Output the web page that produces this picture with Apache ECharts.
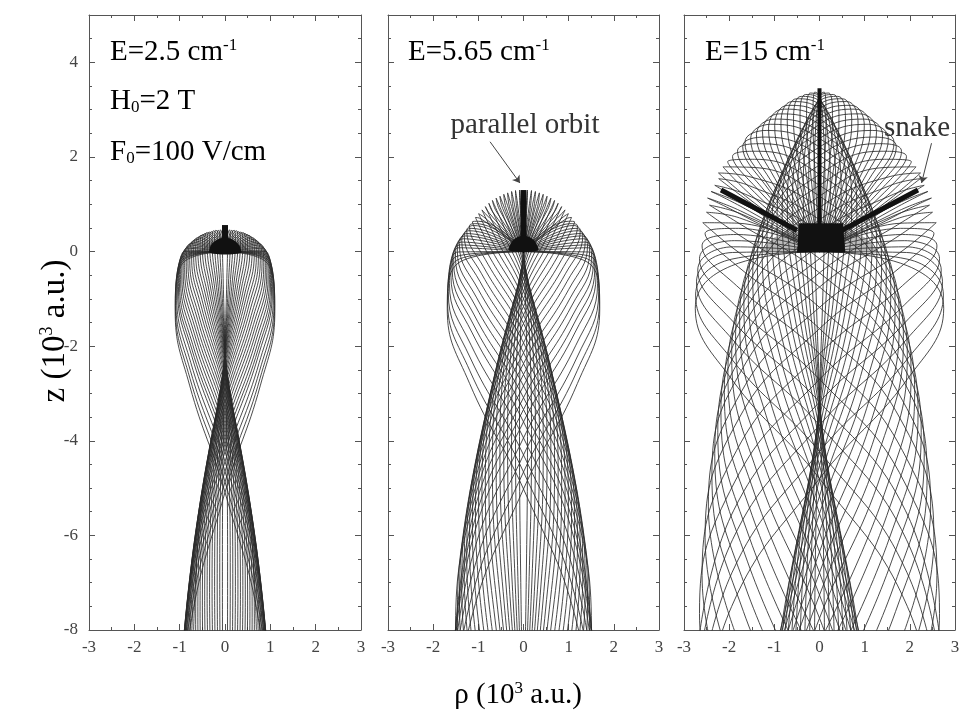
<!DOCTYPE html>
<html><head><meta charset="utf-8">
<script src="https://cdn.jsdelivr.net/npm/echarts@6/dist/echarts.min.js"></script>
<style>html,body{margin:0;padding:0;background:#fff}#c{width:965px;height:721px}</style>
</head><body><div id="c"></div>
<script>
// ---------- axes ----------
const rhoMin = -3, rhoMax = 3, rhoStep = 1;
const zMin = -8, zMax = 5, zStep = 2;

// ---------- panel labels ----------
const panelEnergy = ['2.5', '5.65', '15'];
const fieldH = '2 T';
const fieldF = '100 V/cm';

// ---------- panel 1 (E=2.5) : orbit key points [rho, z] (right-hand branch, mirrored for left) ----------
const p1Orbits = [
  [[0,0],[.051,.46],[.0575,.27],[.041,-.57],[0,-2.05],[-.041,-4.19],[-.0575,-6.98],[-.041,-10.42]],
  [[0,0],[.10,.46],[.116,.27],[.082,-.57],[0,-2.07],[-.082,-4.21],[-.116,-7.0],[-.082,-10.44]],
  [[0,0],[.152,.45],[.172,.26],[.122,-.59],[0,-2.09],[-.122,-4.24],[-.172,-7.03],[-.122,-10.48]],
  [[0,0],[.20,.45],[.229,.24],[.162,-.62],[0,-2.12],[-.162,-4.28],[-.229,-7.08],[-.162,-10.54]],
  [[0,0],[.252,.44],[.285,.22],[.201,-.64],[0,-2.16],[-.201,-4.32],[-.285,-7.14],[-.201,-10.6]],
  [[0,0],[.30,.42],[.34,.20],[.24,-.68],[0,-2.21],[-.24,-4.38],[-.34,-7.21],[-.24,-10.68]],
  [[0,0],[.348,.41],[.394,.17],[.279,-.72],[0,-2.26],[-.279,-4.45],[-.394,-7.29],[-.279,-10.78]],
  [[0,0],[.40,.40],[.448,.14],[.317,-.77],[0,-2.32],[-.317,-4.53],[-.448,-7.38],[-.317,-10.89]],
  [[0,0],[.441,.38],[.499,.10],[.353,-.82],[0,-2.39],[-.353,-4.62],[-.499,-7.49],[-.353,-11.01]],
  [[0,0],[.49,.36],[.55,.07],[.389,-.88],[0,-2.47],[-.389,-4.71],[-.55,-7.61],[-.389,-11.15]],
  [[0,0],[.53,.34],[.599,.02],[.424,-.94],[0,-2.56],[-.424,-4.82],[-.599,-7.74],[-.424,-11.3]],
  [[0,0],[.57,.31],[.647,-.03],[.457,-1.01],[0,-2.65],[-.457,-4.94],[-.647,-7.88],[-.457,-11.46]],
  [[0,0],[.612,.29],[.692,-.08],[.489,-1.09],[0,-2.75],[-.489,-5.07],[-.692,-8.03]],
  [[0,0],[.65,.26],[.736,-.13],[.52,-1.17],[0,-2.86],[-.52,-5.2],[-.736,-8.19]],
  [[0,0],[.688,.23],[.778,-.19],[.55,-1.25],[0,-2.97],[-.55,-5.34],[-.778,-8.36]],
  [[0,0],[.72,.20],[.817,-.25],[.578,-1.35],[0,-3.1],[-.578,-5.49],[-.817,-8.54]],
  [[0,0],[.756,.17],[.855,-.31],[.604,-1.44],[0,-3.22],[-.604,-5.65],[-.855,-8.73]],
  [[0,0],[.79,.14],[.89,-.38],[.629,-1.54],[0,-3.35],[-.629,-5.81],[-.89,-8.93]],
  [[0,0],[.816,.10],[.923,-.44],[.652,-1.64],[0,-3.48],[-.652,-5.98],[-.923,-9.13]],
  [[0,0],[.84,.07],[.953,-.51],[.674,-1.74],[0,-3.63],[-.674,-6.16],[-.953,-9.34]],
  [[0,0],[.866,.03],[.98,-.59],[.693,-1.85],[0,-3.77],[-.693,-6.34],[-.98,-9.56]],
  [[0,0],[.89,0],[1.005,-.66],[.711,-1.97],[0,-3.92],[-.711,-6.53],[-1.005,-9.78]],
  [[0,0],[.908,-.04],[1.027,-.74],[.726,-2.08],[0,-4.07],[-.726,-6.71],[-1.027,-10.01]],
  [[0,0],[.92,-.08],[1.046,-.81],[.739,-2.19],[0,-4.23],[-.739,-6.91],[-1.046,-10.24]],
  [[0,0],[.943,-.13],[1.067,-.92],[.754,-2.35],[0,-4.44],[-.754,-7.17],[-1.067,-10.56]],
  [[0,0],[.96,-.19],[1.084,-1.03],[.766,-2.51],[0,-4.65],[-.766,-7.44],[-1.084,-10.88]],
  [[0,0],[.967,-.24],[1.094,-1.14],[.773,-2.68],[0,-4.87],[-.773,-7.71],[-1.094,-11.21]],
  [[0,0],[.97,-.30],[1.099,-1.25],[.777,-2.84],[0,-5.09],[-.777,-7.99],[-1.099,-11.54]]
];
const p1AxisOrbit = [[0,0.2],[0,0.56]];
const p1BlobRho = [-0.33, 0.35, 0.3, 0.1, -0.1, -0.3];
const p1BlobZ   = [-0.03, -0.03, 0.15, 0.28, 0.28, 0.15];

// ---------- panel 2 (E=5.65) ----------
const p2Orbits = [
  [[0,0],[.078,.97],[.0884,1.3],[.0625,.97],[0,-.01],[-.0625,-1.64],[-.0884,-3.91],[-.0625,-6.84],[0,-10.42]],
  [[0,0],[.156,.97],[.177,1.29],[.125,.96],[0,-.03],[-.125,-1.66],[-.177,-3.94],[-.125,-6.87],[0,-10.45]],
  [[0,0],[.234,.96],[.264,1.27],[.187,.93],[0,-.06],[-.187,-1.71],[-.264,-4.0],[-.187,-6.94],[0,-10.53]],
  [[0,0],[.311,.95],[.352,1.24],[.249,.89],[0,-.12],[-.249,-1.77],[-.352,-4.07],[-.249,-7.03],[0,-10.63]],
  [[0,0],[.387,.93],[.437,1.21],[.309,.84],[0,-.18],[-.309,-1.85],[-.437,-4.17],[-.309,-7.14],[0,-10.76]],
  [[0,0],[.461,.91],[.522,1.17],[.369,.78],[0,-.26],[-.369,-1.94],[-.522,-4.28],[-.369,-7.27],[0,-10.91]],
  [[0,0],[.535,.89],[.606,1.13],[.428,.72],[0,-.35],[-.428,-2.06],[-.606,-4.42],[-.428,-7.43],[0,-11.09]],
  [[0,0],[.608,.86],[.688,1.08],[.486,.64],[0,-.45],[-.486,-2.18],[-.688,-4.57],[-.486,-7.6],[0,-11.29]],
  [[0,0],[.678,.83],[.767,1.02],[.542,.55],[0,-.57],[-.542,-2.33],[-.767,-4.75],[-.542,-7.82],[0,-11.53]],
  [[0,0],[.747,.80],[.845,.95],[.597,.45],[0,-.7],[-.597,-2.49],[-.845,-4.94],[-.597,-8.04],[0,-11.79]],
  [[0,0],[.814,.77],[.92,.88],[.651,.35],[0,-.84],[-.651,-2.67],[-.92,-5.16],[-.651,-8.29]],
  [[0,0],[.879,.73],[.994,.80],[.703,.23],[0,-1.0],[-.703,-2.87],[-.994,-5.39],[-.703,-8.57]],
  [[0,0],[.94,.69],[1.064,.72],[.752,.11],[0,-1.16],[-.752,-3.07],[-1.064,-5.64],[-.752,-8.85]],
  [[0,0],[1.0,.64],[1.131,.63],[.8,-.03],[0,-1.34],[-.8,-3.29],[-1.131,-5.9],[-.8,-9.16]],
  [[0,0],[1.056,.59],[1.195,.54],[.845,-.17],[0,-1.52],[-.845,-3.53],[-1.195,-6.19],[-.845,-9.49]],
  [[0,0],[1.11,.55],[1.256,.44],[.888,-.32],[0,-1.72],[-.888,-3.78],[-1.256,-6.48],[-.888,-9.84]],
  [[0,0],[1.161,.49],[1.313,.34],[.928,-.47],[0,-1.93],[-.928,-4.03],[-1.313,-6.79],[-.928,-10.2]],
  [[0,0],[1.208,.44],[1.367,.23],[.966,-.63],[0,-2.14],[-.966,-4.3],[-1.367,-7.11],[-.966,-10.57]],
  [[0,0],[1.253,.38],[1.417,.12],[1.002,-.8],[0,-2.37],[-1.002,-4.59],[-1.417,-7.45],[-1.002,-10.97]],
  [[0,0],[1.294,.33],[1.464,0],[1.035,-.98],[0,-2.6],[-1.035,-4.88],[-1.464,-7.8],[-1.035,-11.38]],
  [[0,0],[1.331,.27],[1.506,-.12],[1.065,-1.15],[0,-2.84],[-1.065,-5.17],[-1.506,-8.16],[-1.065,-11.79]],
  [[0,0],[1.366,.2],[1.545,-.24],[1.092,-1.34],[0,-3.09],[-1.092,-5.48],[-1.545,-8.53]],
  [[0,0],[1.395,.14],[1.578,-.37],[1.115,-1.53],[0,-3.34],[-1.115,-5.8],[-1.578,-8.9]],
  [[0,0],[1.42,.08],[1.607,-.5],[1.136,-1.72],[0,-3.6],[-1.136,-6.12],[-1.607,-9.29]],
  [[0,0],[1.45,-.01],[1.64,-.67],[1.159,-1.98],[0,-3.94],[-1.159,-6.55],[-1.64,-9.81]],
  [[0,0],[1.472,-.1],[1.665,-.85],[1.177,-2.25],[0,-4.3],[-1.177,-6.99],[-1.665,-10.34]],
  [[0,0],[1.486,-.19],[1.681,-1.03],[1.188,-2.52],[0,-4.66],[-1.188,-7.45],[-1.681,-10.89]],
  [[0,0],[1.492,-.28],[1.688,-1.21],[1.193,-2.79],[0,-5.02],[-1.193,-7.9],[-1.688,-11.43]]
];
const p2AxisOrbit = [[0,0.2],[0,1.3]];
const p2BlobRho = [-0.32, 0.32, 0.25, 0.1, -0.1, -0.25];
const p2BlobZ   = [0.02, 0.02, 0.22, 0.32, 0.32, 0.22];
const p2ArrowFrom = [-0.74, 2.32];
const p2ArrowTo   = [-0.08, 1.45];

// ---------- panel 3 (E=15) ----------
const p3Orbits = [
  [[0,0],[.102,1.72],[.144,2.85],[.102,3.37],[0,3.29],[-.085,2.61],[-.12,1.34],[-.085,-.54],[0,-3.02],[.085,-6.1],[.12,-9.77]],
  [[0,0],[.203,1.72],[.287,2.83],[.203,3.35],[0,3.27],[-.169,2.59],[-.239,1.3],[-.169,-.58],[0,-3.06],[.169,-6.14],[.239,-9.83]],
  [[0,0],[.305,1.71],[.431,2.82],[.305,3.32],[0,3.23],[-.254,2.54],[-.359,1.25],[-.254,-.65],[0,-3.14],[.254,-6.23],[.359,-9.92]],
  [[0,0],[.406,1.69],[.575,2.79],[.406,3.28],[0,3.18],[-.338,2.47],[-.479,1.17],[-.338,-.74],[0,-3.24],[.338,-6.35],[.479,-10.05]],
  [[0,0],[.505,1.68],[.714,2.76],[.505,3.23],[0,3.11],[-.421,2.39],[-.595,1.07],[-.421,-.86],[0,-3.38],[.421,-6.5],[.595,-10.22]],
  [[0,0],[.604,1.66],[.854,2.71],[.604,3.17],[0,3.02],[-.503,2.28],[-.712,.94],[-.503,-1.01],[0,-3.55],[.503,-6.7],[.712,-10.44]],
  [[0,0],[.702,1.63],[.992,2.66],[.702,3.09],[0,2.93],[-.585,2.16],[-.827,.79],[-.585,-1.18],[0,-3.75],[.585,-6.92],[.827,-10.69]],
  [[0,0],[.798,1.6],[1.128,2.61],[.798,3.01],[0,2.81],[-.665,2.02],[-.94,.62],[-.665,-1.38],[0,-3.97],[.665,-7.17],[.94,-10.96]],
  [[0,0],[.893,1.57],[1.262,2.54],[.893,2.91],[0,2.69],[-.744,1.86],[-1.052,.43],[-.744,-1.6],[0,-4.23],[.744,-7.46],[1.052,-11.29]],
  [[0,0],[.986,1.54],[1.396,2.47],[.986,2.8],[0,2.54],[-.822,1.67],[-1.163,.21],[-.822,-1.86],[0,-4.52],[.822,-7.8],[1.163,-11.65]],
  [[0,0],[1.078,1.5],[1.524,2.39],[1.078,2.69],[0,2.39],[-.898,1.48],[-1.27,-.02],[-.898,-2.13],[0,-4.83],[.898,-8.13]],
  [[0,0],[1.166,1.45],[1.65,2.31],[1.166,2.56],[0,2.21],[-.972,1.27],[-1.375,-.28],[-.972,-2.42],[0,-5.17],[.972,-8.52]],
  [[0,0],[1.202,1.41],[1.7,2.22],[1.202,2.42],[0,2.03],[-1.045,1.04],[-1.478,-.55],[-1.045,-2.75],[0,-5.54],[1.045,-8.93]],
  [[0,0],[1.283,1.36],[1.815,2.12],[1.283,2.28],[0,1.83],[-1.116,.79],[-1.578,-.85],[-1.116,-3.09],[0,-5.93],[1.116,-9.37]],
  [[0,0],[1.362,1.31],[1.925,2.01],[1.362,2.12],[0,1.63],[-1.184,.53],[-1.674,-1.16],[-1.184,-3.46],[0,-6.35],[1.184,-9.84]],
  [[0,0],[1.438,1.25],[2.033,1.9],[1.438,1.95],[0,1.4],[-1.25,.26],[-1.768,-1.49],[-1.25,-3.84],[0,-6.79],[1.25,-10.34]],
  [[0,0],[1.511,1.19],[2.137,1.79],[1.511,1.78],[0,1.17],[-1.314,-.04],[-1.858,-1.84],[-1.314,-4.25],[0,-7.26],[1.314,-10.87]],
  [[0,0],[1.581,1.13],[2.236,1.66],[1.581,1.59],[0,.93],[-1.375,-.34],[-1.944,-2.21],[-1.375,-4.68],[0,-7.75],[1.375,-11.42]],
  [[0,0],[1.577,1.07],[2.231,1.54],[1.577,1.4],[0,.67],[-1.434,-.66],[-2.028,-2.59],[-1.434,-5.13],[0,-8.26]],
  [[0,0],[1.639,1.0],[2.318,1.4],[1.639,1.21],[0,.41],[-1.49,-.99],[-2.107,-2.98],[-1.49,-5.58],[0,-8.78]],
  [[0,0],[1.697,.93],[2.4,1.27],[1.697,1.0],[0,.13],[-1.543,-1.34],[-2.182,-3.4],[-1.543,-6.07],[0,-9.34]],
  [[0,0],[1.751,.86],[2.477,1.13],[1.751,.79],[0,-.15],[-1.592,-1.69],[-2.252,-3.82],[-1.592,-6.56],[0,-9.9]],
  [[0,0],[1.722,.79],[2.435,.98],[1.722,.56],[0,-.45],[-1.64,-2.06],[-2.319,-4.27],[-1.64,-7.09],[0,-10.5]],
  [[0,0],[1.768,.71],[2.501,.83],[1.768,.34],[0,-.75],[-1.684,-2.44],[-2.382,-4.72],[-1.684,-7.61],[0,-11.1]],
  [[0,0],[1.827,.6],[2.584,.61],[1.827,.01],[0,-1.18],[-1.74,-2.98],[-2.461,-5.38],[-1.74,-8.37]],
  [[0,0],[1.791,.49],[2.533,.38],[1.791,-.33],[0,-1.63],[-1.791,-3.54],[-2.533,-6.05],[-1.791,-9.16]],
  [[0,0],[1.838,.36],[2.6,.12],[1.838,-.72],[0,-2.16],[-1.838,-4.21],[-2.6,-6.85],[-1.838,-10.09]],
  [[0,0],[1.878,.23],[2.657,-.15],[1.878,-1.13],[0,-2.7],[-1.878,-4.87],[-2.657,-7.65],[-1.878,-11.02]],
  [[0,0],[1.905,.1],[2.695,-.39],[1.905,-1.49],[0,-3.18],[-1.905,-5.48],[-2.695,-8.38]],
  [[0,0],[1.925,-.02],[2.723,-.64],[1.925,-1.86],[0,-3.67],[-1.925,-6.09],[-2.723,-9.11]],
  [[0,0],[1.939,-.16],[2.743,-.92],[1.939,-2.28],[0,-4.23],[-1.939,-6.79],[-2.743,-9.95]],
  [[0,0],[1.944,-.3],[2.75,-1.2],[1.944,-2.7],[0,-4.8],[-1.944,-7.5],[-2.75,-10.8]]
];
const p3AxisOrbit = [[0,0.3],[0,3.45]];
const p3Snake = [[0.5,0.45],[2.18,1.3]];
const p3BlobRho = [-0.5, 0.57, 0.52, -0.45];
const p3BlobZ   = [-0.02, -0.02, 0.6, 0.6];
const p3ShadeRho = [-1.3, -0.5, -0.5, -1.0];
const p3ShadeZ   = [0.0, 0.0, 0.45, 0.3];
const p3ArrowFrom = [2.48, 2.29];
const p3ArrowTo   = [2.26, 1.45];

// ---------- layout ----------
const grids = [
  {left: 89, top: 15, width: 272, height: 615},
  {left: 388, top: 15, width: 271, height: 615},
  {left: 684, top: 15, width: 271, height: 615}
];
const SERIF = 'Liberation Serif, Times New Roman, serif';
const AX = '#555';
const LINE = '#2a2a2a';

const xAxes = [], yAxes = [];
grids.forEach((g, i) => {
  const tick = {inside: true, length: 6, lineStyle: {color: AX}};
  const minor = {show: true, splitNumber: 2, length: 3, lineStyle: {color: AX}};
  xAxes.push({gridIndex: i, type: 'value', min: rhoMin, max: rhoMax, interval: rhoStep, position: 'bottom',
    axisLine: {show: true, onZero: false, lineStyle: {color: AX}}, axisTick: tick, minorTick: minor,
    splitLine: {show: false},
    axisLabel: {fontFamily: SERIF, fontSize: 17, color: '#444', margin: 9, showMinLabel: true, showMaxLabel: true}});
  xAxes.push({gridIndex: i, type: 'value', min: rhoMin, max: rhoMax, interval: rhoStep, position: 'top',
    axisLine: {show: true, onZero: false, lineStyle: {color: AX}}, axisTick: tick, minorTick: minor,
    splitLine: {show: false}, axisLabel: {show: false}});
  const ytick = {inside: true, length: 6, lineStyle: {color: AX}};
  const yminor = {show: true, splitNumber: 4, length: 3, lineStyle: {color: AX}};
  yAxes.push({gridIndex: i, type: 'value', min: zMin, max: zMax, interval: zStep, position: 'left',
    axisLine: {show: true, onZero: false, lineStyle: {color: AX}}, axisTick: ytick, minorTick: yminor,
    splitLine: {show: false},
    axisLabel: {show: i === 0, fontFamily: SERIF, fontSize: 17, color: '#444', margin: 11,
      formatter: v => (Math.abs(v % 2) < 1e-9 ? String(v) : '')}});
  yAxes.push({gridIndex: i, type: 'value', min: zMin, max: zMax, interval: zStep, position: 'right',
    axisLine: {show: true, onZero: false, lineStyle: {color: AX}}, axisTick: ytick, minorTick: yminor,
    splitLine: {show: false}, axisLabel: {show: false}});
});

const series = [];
function addOrbits(orbits, gi) {
  orbits.forEach(o => {
    const mirrored = o.map(([r, z]) => [-r, z]);
    [o, mirrored].forEach(d => series.push({
      type: 'line', xAxisIndex: gi * 2, yAxisIndex: gi * 2, data: d, smooth: 0.45,
      symbol: 'none', silent: true, lineStyle: {color: LINE, width: 0.85}, z: 2
    }));
  });
}
function addThick(data, gi, w) {
  series.push({type: 'line', xAxisIndex: gi * 2, yAxisIndex: gi * 2, data: data, symbol: 'none',
    silent: true, lineStyle: {color: '#111', width: w, cap: 'butt'}, z: 4});
}
function addPoly(rhoArr, zArr, gi, sm, fill, zlev) {
  series.push({type: 'custom', xAxisIndex: gi * 2, yAxisIndex: gi * 2, data: [0], silent: true, z: zlev,
    renderItem: (params, api) => ({
      type: 'polygon',
      shape: {points: rhoArr.map((r, k) => api.coord([r, zArr[k]])), smooth: sm},
      style: {fill: fill}
    })});
}
function addArrow(from, to, gi) {
  series.push({type: 'lines', coordinateSystem: 'cartesian2d', xAxisIndex: gi * 2, yAxisIndex: gi * 2,
    silent: true, symbol: ['none', 'arrow'], symbolSize: 7, z: 6,
    lineStyle: {color: '#444', width: 1, opacity: 1},
    data: [{coords: [from, to]}]});
}

addOrbits(p1Orbits, 0);
addOrbits(p2Orbits, 1);
addOrbits(p3Orbits, 2);
addPoly(p3ShadeRho, p3ShadeZ, 2, 0, 'rgba(60,60,60,0.35)', 3);
addPoly(p3ShadeRho.map(r => -r), p3ShadeZ, 2, 0, 'rgba(60,60,60,0.35)', 3);
addThick(p1AxisOrbit, 0, 6);
addThick(p2AxisOrbit, 1, 6);
addThick(p3AxisOrbit, 2, 4);
addThick(p3Snake, 2, 5);
addThick(p3Snake.map(([r, z]) => [-r, z]), 2, 5);
addPoly(p1BlobRho, p1BlobZ, 0, 0.3, '#111', 5);
addPoly(p2BlobRho, p2BlobZ, 1, 0.3, '#111', 5);
addPoly(p3BlobRho, p3BlobZ, 2, 0, '#111', 5);
addArrow(p2ArrowFrom, p2ArrowTo, 1);
addArrow(p3ArrowFrom, p3ArrowTo, 2);

const txt = '#333';
const rich = {
  m: {fontFamily: SERIF, fontSize: 29, color: txt, lineHeight: 30},
  sup: {fontFamily: SERIF, fontSize: 17, color: txt, lineHeight: 10, verticalAlign: 'top'},
  sub: {fontFamily: SERIF, fontSize: 17, color: txt, lineHeight: 6, verticalAlign: 'bottom'}
};
const yRich = {
  m: {fontFamily: SERIF, fontSize: 33, color: '#444', lineHeight: 34},
  sup: {fontFamily: SERIF, fontSize: 18, color: '#444', lineHeight: 12, verticalAlign: 'top'}
};
const xRich = {
  m: {fontFamily: SERIF, fontSize: 29, color: '#444', lineHeight: 30},
  sup: {fontFamily: SERIF, fontSize: 17, color: '#444', lineHeight: 12, verticalAlign: 'top'}
};
const energyX = [110, 408, 705];
const graphic = [];
panelEnergy.forEach((e, i) => graphic.push({type: 'text', x: energyX[i], y: 37,
  style: {text: '{m|E=' + e + ' cm}{sup|-1}', rich: rich}}));
graphic.push({type: 'text', x: 110, y: 86, style: {text: '{m|H}{sub|0}{m|=' + fieldH + '}', rich: rich}});
graphic.push({type: 'text', x: 110, y: 137, style: {text: '{m|F}{sub|0}{m|=' + fieldF + '}', rich: rich}});
graphic.push({type: 'text', x: 525, y: 125, style: {text: 'parallel orbit', fontFamily: SERIF, fontSize: 29, fill: txt, align: 'center', verticalAlign: 'middle'}});
graphic.push({type: 'text', x: 917, y: 128, style: {text: 'snake', fontFamily: SERIF, fontSize: 29, fill: txt, align: 'center', verticalAlign: 'middle'}});
graphic.push({type: 'text', x: 55, y: 331, rotation: Math.PI / 2,
  style: {text: '{m|z (10}{sup|3}{m| a.u.)}', rich: yRich, align: 'center', verticalAlign: 'middle'}});
graphic.push({type: 'text', x: 518, y: 695,
  style: {text: '{m|\u03c1 (10}{sup|3}{m| a.u.)}', rich: xRich, align: 'center', verticalAlign: 'middle'}});

const chart = echarts.init(document.getElementById('c'), null, {renderer: 'canvas'});
chart.setOption({
  animation: false,
  backgroundColor: '#fff',
  grid: grids,
  xAxis: xAxes,
  yAxis: yAxes,
  series: series,
  graphic: graphic
});
</script>
</body></html>
